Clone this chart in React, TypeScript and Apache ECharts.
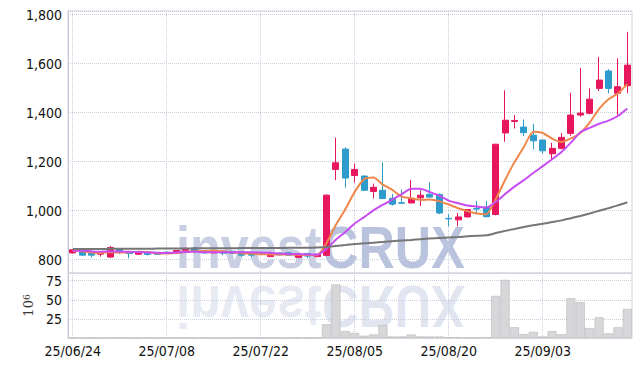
import React, { useEffect, useRef } from 'react';
import * as echarts from 'echarts';

const DATES = [
  '25/06/24', '25/06/25', '25/06/26', '25/06/27', '25/06/30', '25/07/01', '25/07/02', '25/07/03', '25/07/04', '25/07/07',
  '25/07/08', '25/07/09', '25/07/10', '25/07/11', '25/07/14', '25/07/15', '25/07/16', '25/07/17', '25/07/18', '25/07/21',
  '25/07/22', '25/07/23', '25/07/24', '25/07/25', '25/07/28', '25/07/29', '25/07/30', '25/07/31', '25/08/01', '25/08/04',
  '25/08/05', '25/08/06', '25/08/07', '25/08/08', '25/08/11', '25/08/12', '25/08/13', '25/08/14', '25/08/18', '25/08/19',
  '25/08/20', '25/08/21', '25/08/22', '25/08/25', '25/08/26', '25/08/27', '25/08/28', '25/08/29', '25/09/01', '25/09/02',
  '25/09/03', '25/09/04', '25/09/05', '25/09/08', '25/09/09', '25/09/10', '25/09/11', '25/09/12', '25/09/15', '25/09/16',
];

const OPEN = [
  827, 832, 829, 822, 810, 845, 829, 822, 829, 827,
  830, 829, 838, 847, 835, 827, 835, 834, 831, 828,
  826, 812, 827, 828, 809, 825, 812, 817, 1168, 1251,
  1143, 1141, 1078, 1083, 1050, 1032, 1031, 1052, 1066, 1066,
  968, 962, 974, 1008, 1015, 984, 1317, 1364, 1341, 1308,
  1288, 1232, 1254, 1315, 1390, 1397, 1499, 1570, 1479, 1510,
];

const CLOSE = [
  840, 818, 818, 824, 849, 834, 824, 827, 821, 821,
  829, 837, 846, 835, 827, 833, 826, 826, 818, 818,
  822, 824, 819, 818, 817, 814, 822, 1063, 1195, 1133,
  1168, 1083, 1095, 1049, 1026, 1030, 1050, 1063, 1055, 990,
  966, 974, 1004, 1006, 975, 1271, 1369, 1368, 1318, 1285,
  1244, 1254, 1299, 1390, 1398, 1455, 1533, 1499, 1506, 1594,
];

const LOW = [
  825, 816, 808, 812, 808, 822, 805, 819, 816, 819,
  826, 828, 837, 825, 824, 826, 818, 822, 812, 808,
  819, 810, 816, 815, 807, 805, 809, 815, 1124, 1094,
  1114, 1080, 1049, 1047, 1020, 1028, 1030, 1018, 1052, 985,
  935, 935, 972, 988, 972, 980, 1281, 1335, 1304, 1251,
  1233, 1210, 1250, 1305, 1383, 1393, 1488, 1479, 1390, 1479,
];

const HIGH = [
  843, 834, 830, 833, 856, 846, 830, 830, 830, 828,
  832, 838, 848, 848, 836, 835, 836, 835, 832, 829,
  828, 825, 828, 829, 819, 826, 823, 1066, 1298, 1258,
  1192, 1143, 1110, 1196, 1068, 1086, 1124, 1083, 1115, 1070,
  985, 990, 1006, 1039, 1040, 1272, 1491, 1390, 1372, 1354,
  1290, 1277, 1317, 1481, 1583, 1499, 1628, 1577, 1622, 1730,
];

// closes of the 9 sessions before the first shown day (for the moving averages)
const PRE_CLOSES = [836, 838, 840, 838, 835, 837, 839, 836, 834];

const MA60 = [
  843, 843, 843, 843, 844, 844, 844, 844, 844, 845,
  845, 845, 845, 846, 846, 846, 846, 846, 847, 847,
  847, 847, 847, 848, 848, 848, 849, 851, 855, 859,
  863, 866, 869, 872, 875, 878, 880, 883, 886, 888,
  890, 892, 895, 897, 899, 908, 917, 925, 933, 940,
  946, 953, 960, 969, 978, 988, 999, 1010, 1021, 1034,
];

// volume in millions of shares
const VOLUME = [
  0.3, 0.2, 0.3, 0.2, 0.4, 0.3, 0.2, 0.2, 0.2, 0.2,
  0.2, 0.3, 0.3, 0.2, 0.2, 0.2, 0.2, 0.2, 0.3, 0.2,
  0.2, 0.3, 0.2, 0.2, 0.3, 0.3, 0.4, 18, 70, 9,
  6.6, 3, 4.6, 17, 2, 2, 4.6, 2, 2, 2,
  1, 1, 0.5, 0.5, 1, 55, 76, 14, 5, 8,
  2, 9, 5, 52, 47, 13, 27, 6, 14, 38,
];

const PRICE_TICKS = [800, 1000, 1200, 1400, 1600, 1800];
const VOLUME_TICKS = [25, 50, 75];

function movingAverage(n: number): number[] {
  const all = PRE_CLOSES.concat(CLOSE);
  const off = PRE_CLOSES.length;
  return CLOSE.map((_, i) => {
    let s = 0;
    for (let k = i + off - n + 1; k <= i + off; k++) s += all[k];
    return Math.round((s / n) * 10) / 10;
  });
}

const FONT = "'Liberation Sans Narrow', 'DejaVu Sans Condensed', 'Liberation Sans', sans-serif";
const GRID_LINE = { show: true, lineStyle: { color: '#c9cde0', type: 'dotted' as const, width: 1 } };
const WM_FONT = "bold 60px 'Liberation Sans', Arial, sans-serif";

function wmText(text: string, x: number, fill: string, flip: boolean) {
  return {
    type: 'text', x, y: 277, scaleX: 0.84, scaleY: flip ? -1 : 1, z: 0, silent: true,
    style: { text, font: WM_FONT, fill, verticalAlign: 'bottom' },
  };
}

export default function App() {
  const ref = useRef<HTMLDivElement>(null);
  useEffect(() => {
    if (!ref.current) return;
    const chart = echarts.init(ref.current, undefined, { renderer: 'svg' });
    const candles = DATES.map((_, i) => [OPEN[i], CLOSE[i], LOW[i], HIGH[i]]);
    const labelStyle = { color: '#111', fontSize: 14, fontFamily: FONT };
    chart.setOption({
      animation: false,
      backgroundColor: '#ffffff',
      grid: [
        { left: 68, right: 10, top: 11, height: 262, show: true, borderColor: '#d2d2d8', borderWidth: 1 },
        { left: 68, right: 10, top: 273, height: 65, show: true, borderColor: '#d2d2d8', borderWidth: 1 },
      ],
      graphic: [
        wmText('invest', 176, 'rgba(186,195,220,0.8)', false),
        wmText('CRUX', 322, 'rgba(168,180,214,0.8)', false),
        wmText('invest', 176, 'rgba(186,195,220,0.35)', true),
        wmText('CRUX', 322, 'rgba(168,180,214,0.35)', true),
      ],
      xAxis: [
        {
          type: 'category', gridIndex: 0, data: DATES, boundaryGap: true,
          axisLine: { show: false }, axisTick: { show: false }, axisLabel: { show: false },
          splitLine: { ...GRID_LINE, interval: 9, alignWithLabel: true },
        },
        {
          type: 'category', gridIndex: 1, data: DATES, boundaryGap: true,
          axisLine: { show: false }, axisTick: { show: false },
          axisLabel: { ...labelStyle, interval: 9, margin: 6 },
          splitLine: { ...GRID_LINE, interval: 9, alignWithLabel: true },
        },
      ],
      yAxis: [
        {
          type: 'value', gridIndex: 0, min: 745, max: 1815, splitNumber: 5,
          axisLine: { show: true, lineStyle: { color: '#c8cad8' } }, axisTick: { show: false },
          axisLabel: {
            ...labelStyle, margin: 6, showMinLabel: false, showMaxLabel: false,
            formatter: (v: number) => (PRICE_TICKS.includes(v) ? v.toLocaleString('en-US') : ''),
          },
          splitLine: GRID_LINE,
        },
        {
          type: 'value', gridIndex: 1, min: 0, max: 85, interval: 25,
          axisLine: { show: true, lineStyle: { color: '#c8cad8' } }, axisTick: { show: false },
          axisLabel: {
            ...labelStyle, margin: 6,
            formatter: (v: number) => (VOLUME_TICKS.includes(v) ? String(v) : ''),
          },
          splitLine: GRID_LINE,
          name: '10{s|6}', nameLocation: 'middle', nameRotate: 90, nameGap: 30,
          nameTextStyle: {
            fontFamily: "'DejaVu Serif', serif", fontSize: 13, color: '#333',
            rich: { s: { fontFamily: "'DejaVu Serif', serif", fontSize: 9, color: '#333', verticalAlign: 'top' } },
          },
        },
      ],
      series: [
        {
          type: 'candlestick', xAxisIndex: 0, yAxisIndex: 0, data: candles, barWidth: '70%',
          itemStyle: { color: '#e8175d', color0: '#2d9bcb', borderColor: '#e8175d', borderColor0: '#2d9bcb', borderWidth: 1 },
        },
        {
          type: 'line', xAxisIndex: 0, yAxisIndex: 0, data: movingAverage(5), symbol: 'none', smooth: 0.2,
          lineStyle: { color: '#f0874a', width: 2 },
        },
        {
          type: 'line', xAxisIndex: 0, yAxisIndex: 0, data: movingAverage(10), symbol: 'none', smooth: 0.2,
          lineStyle: { color: '#c74df0', width: 2 },
        },
        {
          type: 'line', xAxisIndex: 0, yAxisIndex: 0, data: MA60, symbol: 'none', smooth: 0.2,
          lineStyle: { color: '#767676', width: 2 },
        },
        {
          type: 'bar', xAxisIndex: 1, yAxisIndex: 1, data: VOLUME, barCategoryGap: '4%',
          itemStyle: { color: '#d7d7d9', borderColor: '#b9b9bd', borderWidth: 0.6 },
        },
      ],
    });
    return () => chart.dispose();
  }, []);
  return <div ref={ref} style={{ position: 'fixed', left: 0, top: 0, width: 642, height: 367 }} />;
}
